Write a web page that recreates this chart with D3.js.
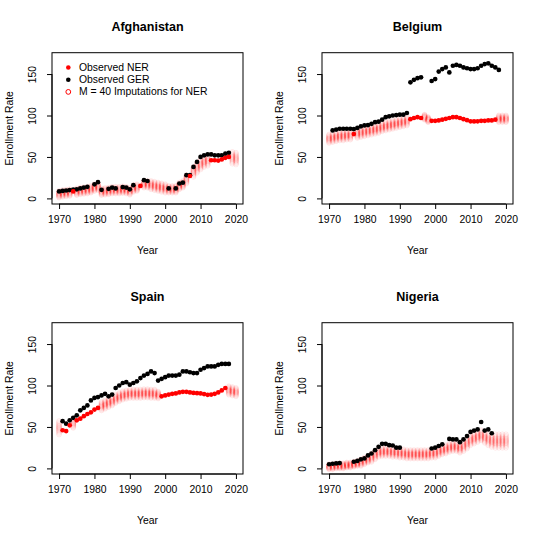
<!DOCTYPE html>
<html>
<head>
<meta charset="utf-8">
<script src="https://cdn.jsdelivr.net/npm/d3@7"></script>
<style>
  html, body { margin: 0; padding: 0; background: #fff; }
  svg { display: block; }
  text { font-family: "Liberation Sans", Arial, Helvetica, sans-serif; fill: #000; }
</style>
</head>
<body>
<svg id="chart" width="540" height="540"></svg>
<script>
// ---------------- DATA ----------------
const years = d3.range(1970, 2021); // 1970 ... 2020
const countries = ["Afghanistan", "Belgium", "Spain", "Nigeria"];
const xTicks = [1970, 1980, 1990, 2000, 2010, 2020];
const yTicks = [0, 50, 100, 150];
const legendLabels = ["Observed NER", "Observed GER", "M = 40 Imputations for NER"];

// Observed GER, 1970..2020 (null = missing)
const gerAfghanistan = [8.4,9,9.5,10,10.5,11,12,13,14,null,17,19.6,10.4,null,11.6,13,12,null,13.6,13,11,16,null,null,22,21,null,null,null,null,null,12,null,12,18,19,28,28,38,44,50,52,53,53,52,52,52,54,55,null,null];
const gerBelgium = [null,82,83,84,84,84,84,83.6,85,87,88,88.5,90,92,92.5,95,98,99,100,100.5,101,101,103,140,143,145,146,null,null,141.6,144,153,156,158,152,160,161,160,158,157,156,156,157,160,162,163,160,158,155,null,null];
const gerSpain = [null,57,54,58,61,64,70,73,76,82,85,86,88,90,87,89,97,100,103,104,101,103,105,109,112,114,117,115,106,108,110,112,112,112,113,117,117,116,115,115,119,121,123,123,123,125,126,126,126,null,null];
const gerNigeria = [5,5.6,6,6.4,null,null,null,8,9,11,12,15.6,18,22,26,29.6,29.6,28,27.6,25,25,null,null,null,null,null,null,null,null,24,25,27,29,null,35.6,35,35,31.6,35,39,44,45.6,47,56,45.6,47,42.4,null,null,null,null];

// Observed NER, 1970..2020 (null = missing)
const nerAfghanistan = [null,null,null,null,8.4,null,null,null,null,null,null,null,null,null,null,null,null,null,null,null,null,null,null,15,null,null,null,null,null,null,null,null,null,null,null,null,null,27,null,null,null,null,null,46,46,45.6,47,49,50,null,null];
const nerBelgium = [null,null,null,null,null,null,null,77.6,null,null,null,null,null,null,null,null,null,null,null,null,null,null,null,95.6,97,98,97,null,null,93.6,93.6,94,95,96,97,98,98,97,95.6,94.4,93,92.8,93,93.6,93.6,94,94,95,null,null,null];
const nerSpain = [null,46,45,52,null,58,60,63,65.6,67.6,71,73,null,null,null,null,null,null,null,null,null,null,null,null,null,null,null,null,null,87,88,89,90,90.4,91.6,92.4,92.4,91.6,91,90.8,90.4,89.6,88.8,89,90,91.6,94,97,null,null,null];
const nerNigeria = years.map(() => null);

// Imputed NER: centre of the 40 imputations and half-width of their spread, 1970..2020
const impMidAfghanistan = [5,6,6.5,7,null,8,9,9.5,10,11,13,14,8,8.5,9,10,10,10,10.5,10,8.5,12,13,null,17,17,16,15,14,13,12,11,11,11,15,17,23,null,32,37,41,44,45.5,null,null,null,null,null,null,49,48];
const impHwAfghanistan = [4,4,4,4,0,4,4,4,4,4,4,4,4,4,4,4,4,4,4,4,4,4,4,0,4,4,5,5,5,5,5,4,4,4,4,4,5,0,6,6,6,6,6,0,0,0,0,0,0,7,7];
const impMidBelgium = [72,73,74,75,75,76,76,null,78,79,80,81,82,83,84,86,87,88,89,90,91,92,93,null,null,null,null,98,95,null,null,null,null,null,null,null,null,null,null,null,null,null,null,null,null,null,null,null,96,96,96];
const impHwBelgium = [5,5,5,5,5,5,5,0,5,5,5,5,5,5,5,5,5,5,5,5,5,5,5,0,0,0,0,3,3,0,0,0,0,0,0,0,0,0,0,0,0,0,0,0,0,0,0,0,4,4,4];
const impMidSpain = [49,null,null,null,54,null,null,null,null,null,null,null,75,77,79,81,84,86,88,89,90,90,90,90,90.5,90.5,90,90,88.5,null,null,null,null,null,null,null,null,null,null,null,null,null,null,null,null,null,null,null,94,93,92];
const impHwSpain = [8,0,0,0,5,0,0,0,0,0,0,0,5,5,5,5,5,5,5,5,5,5,5,5,5,5,5,5,4,0,0,0,0,0,0,0,0,0,0,0,0,0,0,0,0,0,0,0,5,5,5];
const impMidNigeria = [2,2,3,3,3,4,4,5,6,7,9,11,13,16,19,20,20,20,19,19,18,18,17,17,17,17,17,17,17,18,18,20,22,23,25,26,26,24,27,30,34,36,38,40,37,35,33,33,33,33,33];
const impHwNigeria = [3,3,3,3,3,3,3,3,3,4,4,4,5,5,5,5,5,5,5,5,5,5,5,5,5,5,5,5,5,5,5,5,5,5,5,5,5,5,6,6,6,6,6,6,6,7,7,8,8,8,8];

const panelData = {
  Afghanistan: { ger: gerAfghanistan, ner: nerAfghanistan, mid: impMidAfghanistan, hw: impHwAfghanistan },
  Belgium:     { ger: gerBelgium,     ner: nerBelgium,     mid: impMidBelgium,     hw: impHwBelgium },
  Spain:       { ger: gerSpain,       ner: nerSpain,       mid: impMidSpain,       hw: impHwSpain },
  Nigeria:     { ger: gerNigeria,     ner: nerNigeria,     mid: impMidNigeria,     hw: impHwNigeria }
};

// ---------------- DRAWING ----------------
const svg = d3.select("#chart");
const PW = 270, PH = 270;
const plot = { left: 52, right: 243, top: 52.7, bottom: 204 };
const RED = "#FF0000";
const FS = 10.4;
// fixed offsets (fraction of half-width) used to spread the imputation circles
const spreadOffsets = [-1, -0.78, -0.6, -0.45, -0.32, -0.2, -0.1, 0, 0.1, 0.2, 0.32, 0.45, 0.6, 0.78, 1];

countries.forEach((name, i) => {
  const d = panelData[name];
  const g = svg.append("g")
    .attr("transform", `translate(${(i % 2) * PW},${Math.floor(i / 2) * PH})`);

  const x = d3.scaleLinear().domain([1968, 2022]).range([plot.left, plot.right]);
  const y = d3.scaleLinear().domain([-6.76, 175.76]).range([plot.bottom, plot.top]);

  // imputations
  const impG = g.append("g");
  years.forEach((yr, k) => {
    const m = d.mid[k];
    if (m == null) return;
    spreadOffsets.forEach(o => {
      impG.append("circle")
        .attr("cx", x(yr)).attr("cy", y(m + o * d.hw[k]))
        .attr("r", 2.5)
        .attr("fill", "none")
        .attr("stroke", RED)
        .attr("stroke-opacity", 0.085)
        .attr("stroke-width", 1);
    });
  });

  // observed GER
  g.append("g").selectAll("circle")
    .data(years.map((yr, k) => ({ yr, v: d.ger[k] })).filter(p => p.v != null))
    .join("circle")
    .attr("cx", p => x(p.yr)).attr("cy", p => y(p.v))
    .attr("r", 2.35).attr("fill", "#000");

  // observed NER
  g.append("g").selectAll("circle")
    .data(years.map((yr, k) => ({ yr, v: d.ner[k] })).filter(p => p.v != null))
    .join("circle")
    .attr("cx", p => x(p.yr)).attr("cy", p => y(p.v))
    .attr("r", 2.35).attr("fill", RED);

  // box
  g.append("rect")
    .attr("x", plot.left).attr("y", plot.top)
    .attr("width", plot.right - plot.left).attr("height", plot.bottom - plot.top)
    .attr("fill", "none").attr("stroke", "#000").attr("stroke-width", 1);

  // x axis
  const xAxis = g.append("g")
    .attr("transform", `translate(0,${plot.bottom})`)
    .call(d3.axisBottom(x).tickValues(xTicks).tickFormat(d3.format("d")).tickSize(5).tickPadding(7));
  xAxis.select(".domain").attr("d", `M${x(1970)},0H${x(2020)}`);
  xAxis.selectAll("text").attr("font-size", FS).attr("font-family", "Liberation Sans, Arial, sans-serif").attr("fill", "#222");

  // y axis
  const yAxis = g.append("g")
    .attr("transform", `translate(${plot.left},0)`)
    .call(d3.axisLeft(y).tickValues(yTicks).tickSize(5).tickFormat(d3.format("d")));
  yAxis.select(".domain").attr("d", `M0,${y(0)}V${y(150)}`);
  yAxis.selectAll(".tick text")
    .attr("x", null).attr("dy", null)
    .attr("transform", "translate(-20,0) rotate(-90)")
    .attr("text-anchor", "middle")
    .attr("dominant-baseline", "central")
    .attr("font-size", FS).attr("font-family", "Liberation Sans, Arial, sans-serif").attr("fill", "#222");

  // title
  g.append("text")
    .attr("x", (plot.left + plot.right) / 2).attr("y", 30.5)
    .attr("text-anchor", "middle")
    .attr("font-size", 12.5).attr("font-weight", "bold")
    .text(name);

  // axis titles
  g.append("text")
    .attr("x", (plot.left + plot.right) / 2).attr("y", 253.5)
    .attr("text-anchor", "middle").attr("font-size", FS).attr("fill", "#222")
    .text("Year");
  g.append("text")
    .attr("transform", `translate(9,${(plot.top + plot.bottom) / 2}) rotate(-90)`)
    .attr("text-anchor", "middle").attr("dominant-baseline", "central")
    .attr("font-size", FS).attr("fill", "#222")
    .text("Enrollment Rate");

  // legend (first panel only)
  if (i === 0) {
    const lg = g.append("g");
    const rows = [67.5, 79.7, 91.9];
    lg.append("circle").attr("cx", 68.3).attr("cy", rows[0]).attr("r", 2.3).attr("fill", RED);
    lg.append("circle").attr("cx", 68.3).attr("cy", rows[1]).attr("r", 2.3).attr("fill", "#000");
    lg.append("circle").attr("cx", 68.3).attr("cy", rows[2]).attr("r", 2.4)
      .attr("fill", "none").attr("stroke", RED).attr("stroke-width", 1);
    legendLabels.forEach((t, k) => {
      lg.append("text").attr("x", 79).attr("y", rows[k])
        .attr("dominant-baseline", "central")
        .attr("font-size", FS).attr("fill", "#222").text(t);
    });
  }
});
</script>
</body>
</html>
